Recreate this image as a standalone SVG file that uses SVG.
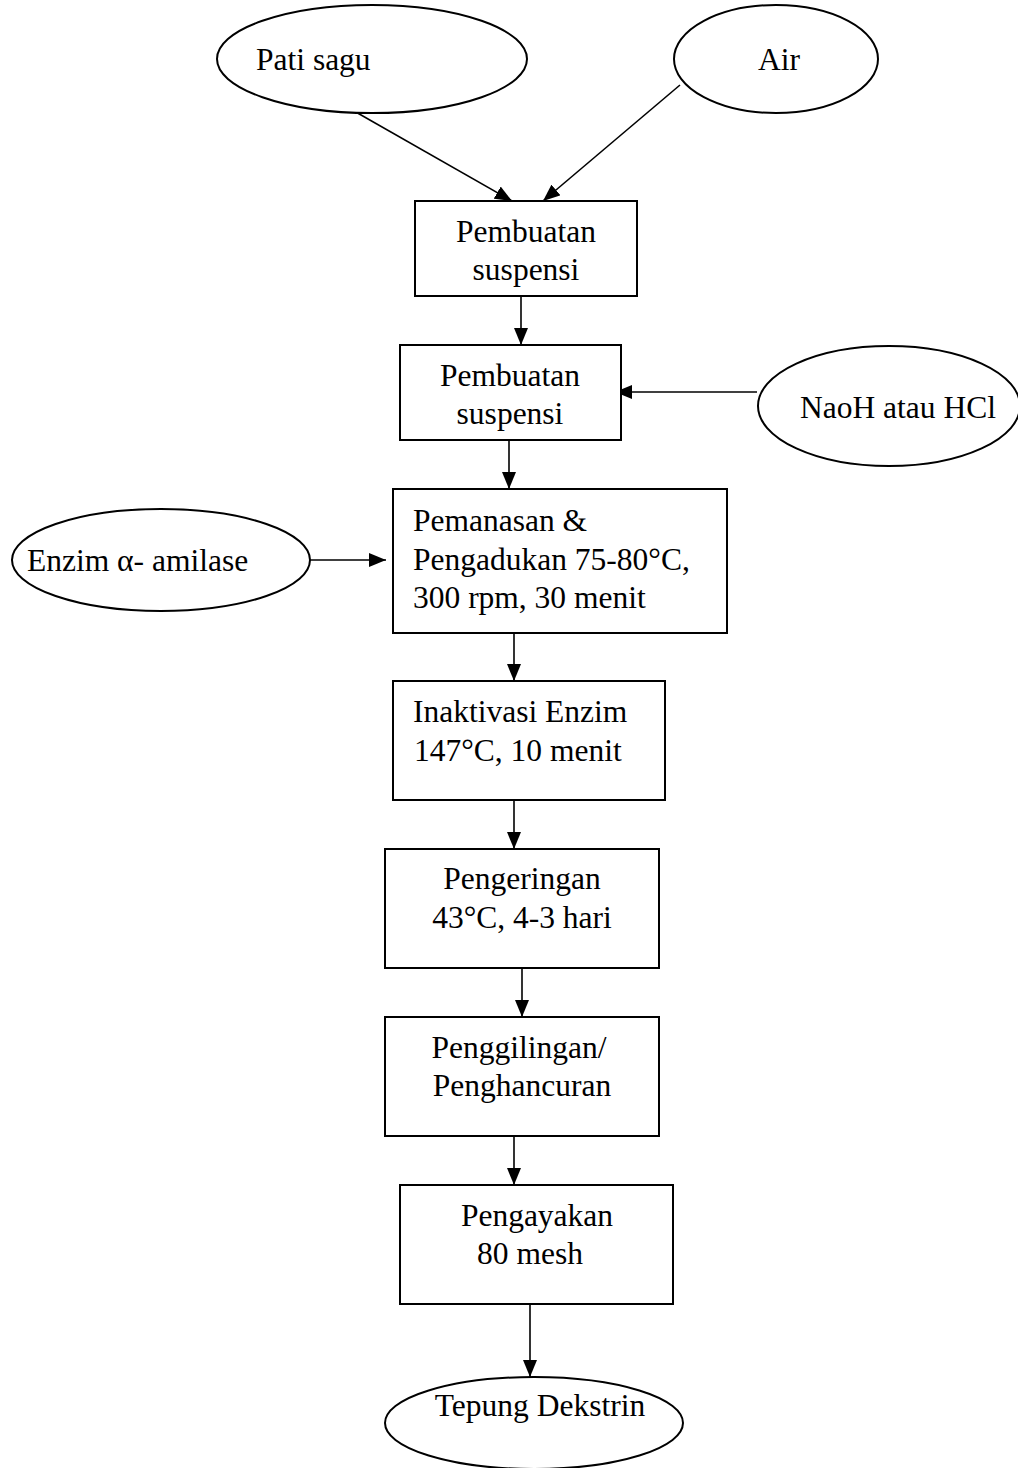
<svg xmlns="http://www.w3.org/2000/svg" width="1018" height="1468" viewBox="0 0 1018 1468">
<defs>
<marker id="ah" markerUnits="userSpaceOnUse" markerWidth="18" markerHeight="14" refX="17" refY="7" orient="auto">
<path d="M0,0 L17,7 L0,14 Z" fill="#000"/>
</marker>
<style>
.n{fill:#fff;stroke:#000;stroke-width:2}
.t{font-family:"Liberation Serif","Times New Roman",serif;font-size:31.5px;fill:#000}
.m{text-anchor:middle}
.c{stroke:#000;stroke-width:1.6;fill:none;marker-end:url(#ah)}
</style>
</defs>
<rect width="1018" height="1468" fill="#fff"/>
<g id="connectors">
<line class="c" x1="347" y1="107" x2="512" y2="201"/>
<line class="c" x1="680" y1="85" x2="543" y2="201"/>
<line class="c" x1="521" y1="296" x2="521" y2="345"/>
<line class="c" x1="757" y1="392" x2="615" y2="392"/>
<line class="c" x1="509" y1="440" x2="509" y2="489"/>
<line class="c" x1="310" y1="560" x2="386" y2="560"/>
<line class="c" x1="514" y1="633" x2="514" y2="681"/>
<line class="c" x1="514" y1="800" x2="514" y2="849"/>
<line class="c" x1="522" y1="968" x2="522" y2="1017"/>
<line class="c" x1="514" y1="1136" x2="514" y2="1185"/>
<line class="c" x1="530" y1="1304" x2="530" y2="1377"/>
</g>
<g id="pati-sagu">
<ellipse class="n" cx="372" cy="59" rx="155" ry="54"/>
<text class="t" x="256" y="70">Pati sagu</text>
</g>
<g id="air">
<ellipse class="n" cx="776" cy="59" rx="102" ry="54"/>
<text class="t" x="758" y="70">Air</text>
</g>
<g id="suspensi1">
<rect class="n" x="415" y="201" width="222" height="95"/>
<text class="t m" x="526" y="242">Pembuatan</text>
<text class="t m" x="526" y="280">suspensi</text>
</g>
<g id="suspensi2">
<rect class="n" x="400" y="345" width="221" height="95"/>
<text class="t m" x="510" y="386">Pembuatan</text>
<text class="t m" x="510" y="424">suspensi</text>
</g>
<g id="naoh">
<ellipse class="n" cx="889" cy="406" rx="131" ry="60"/>
<text class="t" x="800" y="418">NaoH atau HCl</text>
</g>
<g id="enzim">
<ellipse class="n" cx="161" cy="560" rx="149" ry="51"/>
<text class="t" x="27" y="571">Enzim α- amilase</text>
</g>
<g id="pemanasan">
<rect class="n" x="393" y="489" width="334" height="144"/>
<text class="t" x="413" y="531">Pemanasan &amp;</text>
<text class="t" x="413" y="570">Pengadukan 75-80°C,</text>
<text class="t" x="413" y="608">300 rpm, 30 menit</text>
</g>
<g id="inaktivasi">
<rect class="n" x="393" y="681" width="272" height="119"/>
<text class="t" x="413" y="722">Inaktivasi Enzim</text>
<text class="t" x="414" y="761">147°C, 10 menit</text>
</g>
<g id="pengeringan">
<rect class="n" x="385" y="849" width="274" height="119"/>
<text class="t m" x="522" y="889">Pengeringan</text>
<text class="t m" x="522" y="928">43°C, 4-3 hari</text>
</g>
<g id="penggilingan">
<rect class="n" x="385" y="1017" width="274" height="119"/>
<text class="t m" x="519" y="1058">Penggilingan/</text>
<text class="t m" x="522" y="1096">Penghancuran</text>
</g>
<g id="pengayakan">
<rect class="n" x="400" y="1185" width="273" height="119"/>
<text class="t m" x="537" y="1226">Pengayakan</text>
<text class="t m" x="530" y="1264">80 mesh</text>
</g>
<g id="tepung">
<ellipse class="n" cx="534" cy="1423" rx="149" ry="46"/>
<text class="t m" x="540" y="1416">Tepung Dekstrin</text>
</g>
</svg>
